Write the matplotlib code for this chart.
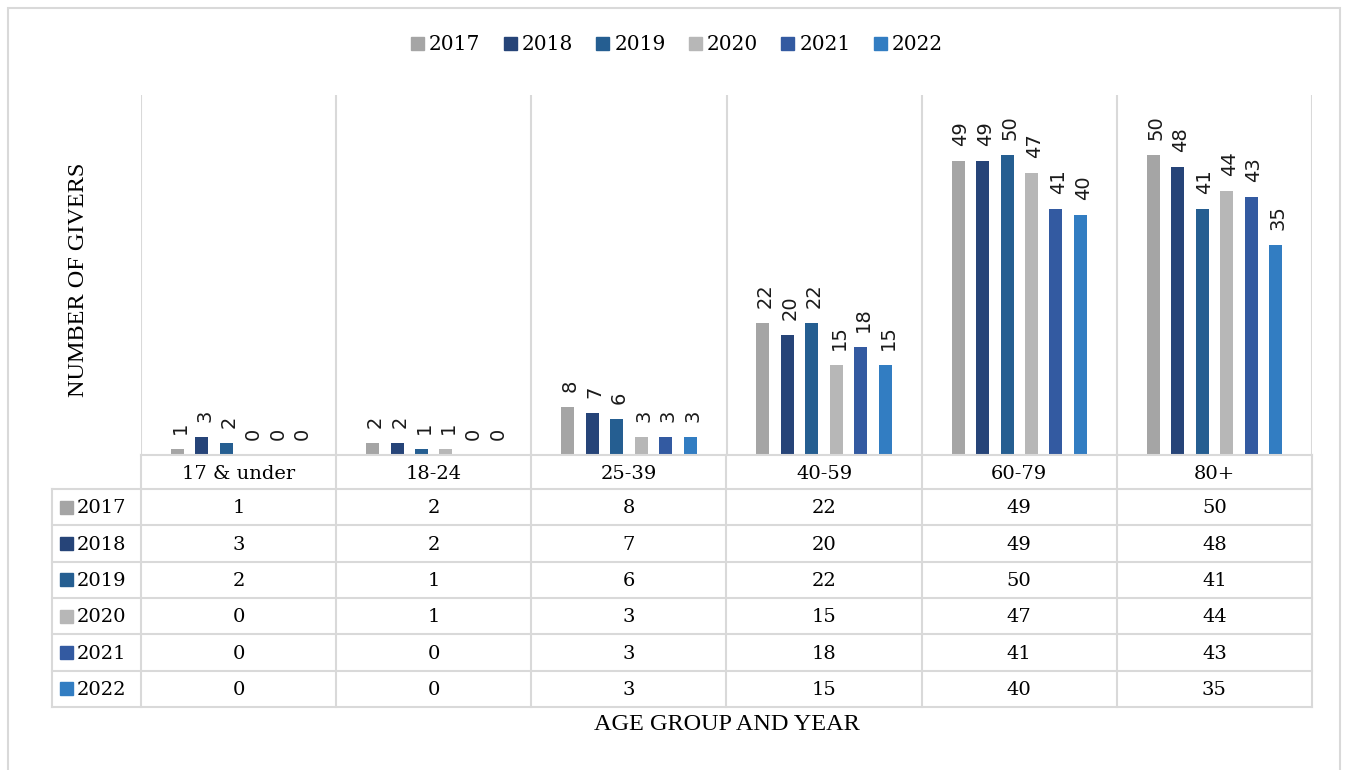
import numpy as np
import matplotlib.pyplot as plt
from matplotlib.patches import Patch, Rectangle

# data
age_groups = ['17 & under', '18-24', '25-39', '40-59', '60-79', '80+']
years = ['2017', '2018', '2019', '2020', '2021', '2022']
givers_2017 = [1, 2, 8, 22, 49, 50]
givers_2018 = [3, 2, 7, 20, 49, 48]
givers_2019 = [2, 1, 6, 22, 50, 41]
givers_2020 = [0, 1, 3, 15, 47, 44]
givers_2021 = [0, 0, 3, 18, 41, 43]
givers_2022 = [0, 0, 3, 15, 40, 35]
series = [givers_2017, givers_2018, givers_2019, givers_2020, givers_2021, givers_2022]

colors = ['#A5A5A5', '#264478', '#255E91', '#B7B7B7', '#335AA1', '#327DC2']
grid = '#D9D9D9'
serif = 'DejaVu Serif'

W, H = 1346, 770
fig = plt.figure(figsize=(W / 100, H / 100), dpi=100)

# outer chart border
fig.add_artist(Rectangle((8 / W, -0.01), (1340 - 8) / W, 1 - 8 / H + 0.01,
                         transform=fig.transFigure, fill=False, ec=grid, lw=1.5))

# ---- bar area ----
ax = fig.add_axes([141 / W, 1 - 455 / H, (1312 - 141) / W, (455 - 95) / H])
ax.set_xlim(-0.5, 5.5)
ax.set_ylim(0, 60)
for s in ax.spines.values():
    s.set_visible(False)
ax.set_xticks([])
ax.set_yticks([])
for b in np.arange(-0.5, 6, 1):
    ax.axvline(b, color=grid, lw=1.5, zorder=0)

x = np.arange(len(age_groups))
step = 24.5 / 195.2
width = 13 / 195.2
for j, vals in enumerate(series):
    xs = x + (j - 2.5) * step
    ax.bar(xs, vals, width=width, color=colors[j], zorder=2)
    for xi, v in zip(xs, vals):
        ax.annotate(str(v), (xi, v), xytext=(2, 11), textcoords='offset points',
                    rotation=90, ha='center', va='bottom', fontsize=14,
                    family='DejaVu Sans', color='#1a1a1a')

# ---- data table ----
tab = fig.add_axes([52 / W, 1 - 707 / H, (1312 - 52) / W, (707 - 455) / H])
tab.axis('off')
lw = 89 / 195.17
hh = 34 / 36.33
tab.set_xlim(-0.5 - lw, 5.5)
tab.set_ylim(hh + 6, 0)

line_kw = dict(color=grid, lw=1.5, clip_on=False)
tab.plot([-0.5, 5.5], [0, 0], **line_kw)
for k in range(7):
    tab.plot([-0.5 - lw, 5.5], [hh + k, hh + k], **line_kw)
tab.plot([-0.5 - lw, -0.5 - lw], [hh, hh + 6], **line_kw)
for i in range(7):
    tab.plot([i - 0.5, i - 0.5], [0, hh + 6], **line_kw)

for i, g in enumerate(age_groups):
    tab.text(i, hh / 2 + 0.05, g, ha='center', va='center', family=serif, fontsize=14)
for k, vals in enumerate(series):
    yc = hh + k + 0.5
    tab.add_patch(Rectangle((-0.5 - lw + 8 / 195.17, yc - 6.5 / 36.33), 13 / 195.17, 13 / 36.33,
                            color=colors[k], clip_on=False))
    tab.text(-0.5 - lw + 25 / 195.17, yc + 0.03, years[k], ha='left', va='center',
             family=serif, fontsize=14)
    for i, v in enumerate(vals):
        tab.text(i, yc + 0.03, str(v), ha='center', va='center', family=serif, fontsize=14)

# ---- titles and legend ----
fig.text(78 / W, 1 - 280 / H, 'NUMBER OF GIVERS', rotation=90, ha='center', va='center',
         family='Liberation Serif', fontsize=17.5)
fig.text(727 / W, 1 - 724 / H, 'AGE GROUP AND YEAR', ha='center', va='center',
         family='Liberation Serif', fontsize=17.5)

handles = [Patch(color=c) for c in colors]
fig.legend(handles, years, loc='center', bbox_to_anchor=(677 / W, 1 - 45 / H), ncol=6,
           frameon=False, handlelength=0.65, handleheight=0.65, handletextpad=0.25,
           columnspacing=1.15, prop=dict(family=serif, size=14.5))

fig.savefig('out.png', dpi=100)
